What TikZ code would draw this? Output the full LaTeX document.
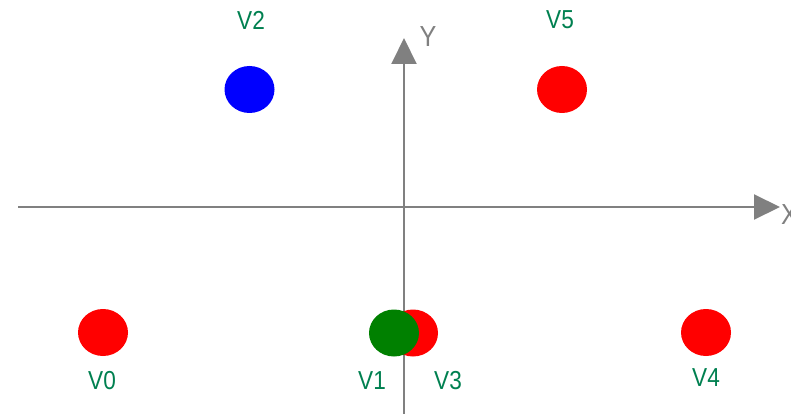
\documentclass[tikz,border=0pt]{standalone}
\usepackage{fontspec}
\newfontfamily\labfont[FakeStretch=0.87]{Liberation Sans}
\usetikzlibrary{arrows.meta}
\definecolor{labgreen}{RGB}{0,128,80}
\definecolor{axisgray}{RGB}{128,128,128}
\definecolor{ptred}{RGB}{255,0,0}
\definecolor{ptgreen}{RGB}{0,128,0}
\definecolor{ptblue}{RGB}{0,0,255}
\tikzset{
  pt/.style={ellipse, minimum width=50pt, minimum height=47pt, inner sep=0pt},
  vlab/.style={text=labgreen, font=\labfont\fontsize{26}{26}\selectfont, inner sep=0pt},
  alab/.style={text=axisgray, font=\labfont\fontsize{29}{29}\selectfont, inner sep=0pt},
  axis/.style={draw=axisgray, line width=2pt, -{Triangle[length=26pt,width=25pt]}},
}
\usetikzlibrary{shapes.geometric}
\begin{document}
\begin{tikzpicture}[x=1pt,y=-1pt]
\useasboundingbox (0,0) rectangle (791,414);
\coordinate (xs) at (18,207);
\coordinate (xe) at (780,207);
\coordinate (ys) at (404,414);
\coordinate (ye) at (404,38);
\draw[axis] (xs) -- (xe);
\draw[axis] (ys) -- (ye);
\node[alab, anchor=west] (xl) at (781,215) {X};
\node[alab] (yl) at (428,37) {Y};
\node[pt, fill=ptblue] (v2) at (249.5,89.5) {};
\node[pt, fill=ptred] (v5) at (562,89.5) {};
\node[pt, fill=ptred] (v0) at (103,332.5) {};
\node[pt, fill=ptred] (v4) at (706,332.5) {};
\node[pt, fill=ptred] (v3) at (413,333) {};
\node[pt, fill=ptgreen] (v1) at (394,333) {};
\node[vlab] (l2) at (251,20) {V2};
\node[vlab] (l5) at (560,20) {V5};
\node[vlab] (l0) at (102,381) {V0};
\node[vlab] (l1) at (372,381) {V1};
\node[vlab] (l3) at (448,381) {V3};
\node[vlab] (l4) at (706,378) {V4};
\end{tikzpicture}
\end{document}
